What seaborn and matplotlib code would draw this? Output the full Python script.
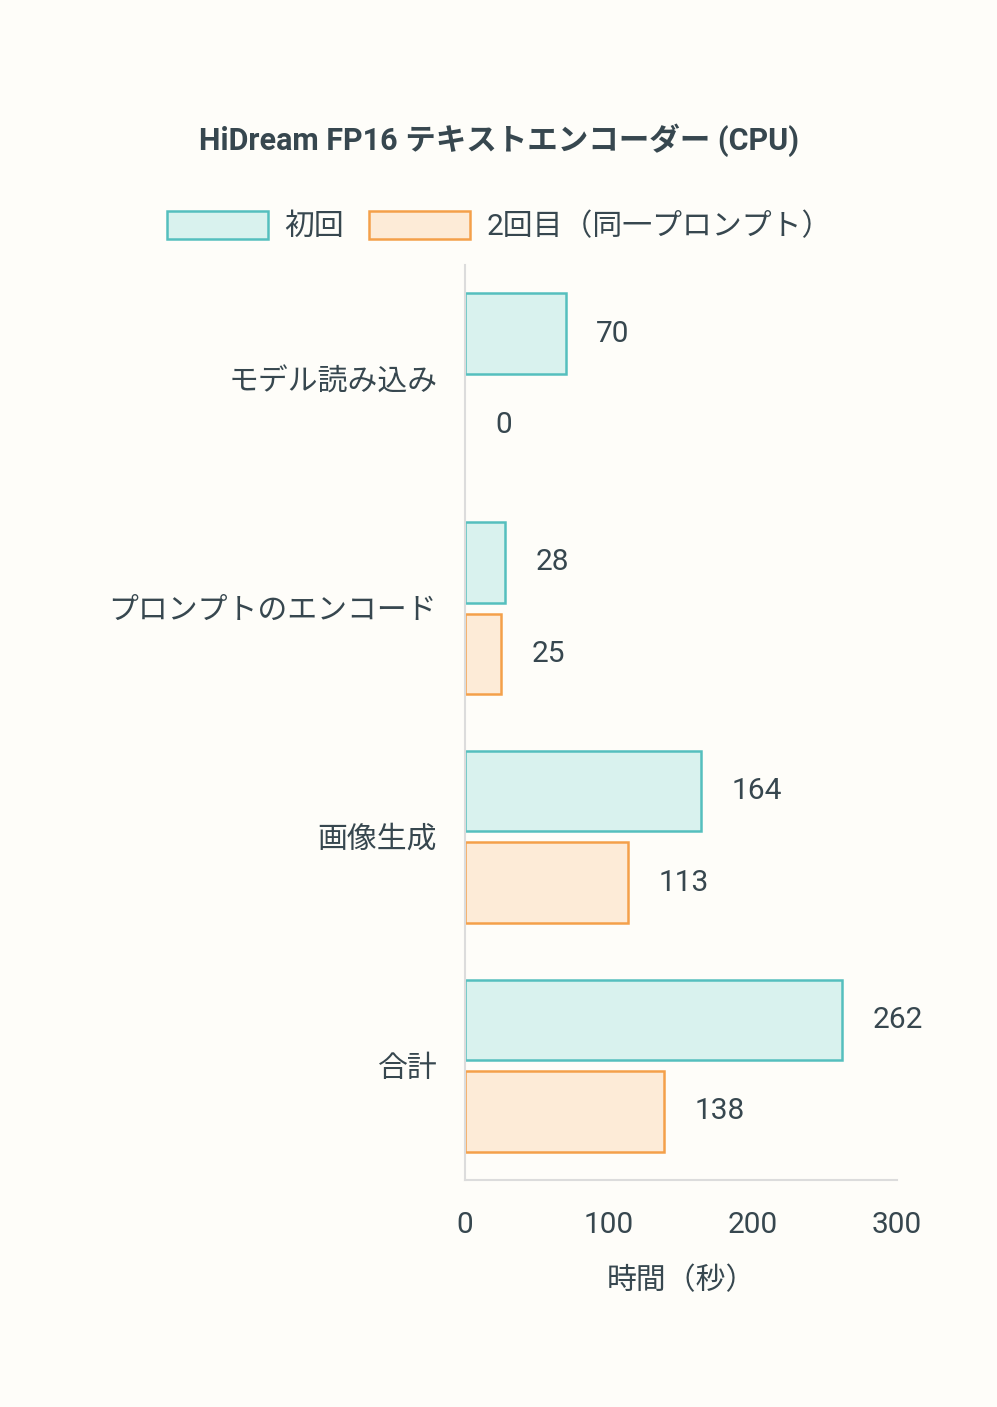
import matplotlib
matplotlib.use("Agg")
import matplotlib.pyplot as plt
import numpy as np
import pandas as pd
import seaborn as sns
from matplotlib.patches import Patch

categories = ["モデル読み込み", "プロンプトのエンコード", "画像生成", "合計"]
series_names = ["初回", "2回目（同一プロンプト）"]
first_run = [70, 28, 164, 262]
second_run = [0, 25, 113, 138]
x_ticks = [0, 100, 200, 300]

title = "HiDream FP16 テキストエンコーダー (CPU)"
x_label = "時間（秒）"

fill_colors = ["#d9f2ee", "#fdebd7"]
edge_colors = ["#55bfbe", "#f4a04a"]
text_color = "#37474f"
bg_color = "#fefdf9"
font_size = 21.5

sns.set_theme(style="white")
plt.rcParams["font.family"] = ["Roboto", "Noto Sans CJK JP", "DejaVu Sans"]

frame = pd.DataFrame(
    {
        "category": categories * 2,
        "series": [series_names[0]] * len(categories) + [series_names[1]] * len(categories),
        "value": first_run + second_run,
    }
)

fig = plt.figure(figsize=(9.97, 14.07), dpi=100, facecolor=bg_color)
ax = fig.add_axes([0.4664, 0.1613, 0.4333, 0.6504])
ax.set_facecolor(bg_color)

sns.barplot(
    data=frame,
    y="category",
    x="value",
    hue="series",
    hue_order=series_names,
    order=categories,
    palette=fill_colors,
    saturation=1,
    orient="h",
    width=0.8,
    gap=0.12,
    legend=False,
    ax=ax,
)

# per-series outline colour, and hide the outline of zero-length bars
values_by_series = [first_run, second_run]
for container, edge, vals in zip(ax.containers, edge_colors, values_by_series):
    for bar, v in zip(container, vals):
        bar.set_edgecolor(edge)
        bar.set_linewidth(1.8 if v > 0 else 0)
    ax.bar_label(
        container,
        labels=[str(v) for v in vals],
        padding=22,
        fontsize=font_size,
        color=text_color,
    )

ax.set_xlim(0, 300)
ax.set_ylim(3.5, -0.5)
ax.set_xticks(x_ticks)
ax.set_xticklabels([str(t) for t in x_ticks])
ax.set_xlabel(x_label, fontsize=font_size, color=text_color, labelpad=20)
ax.set_ylabel("")
ax.tick_params(axis="x", length=0, pad=22, labelsize=font_size, labelcolor=text_color)
ax.tick_params(axis="y", length=0, pad=20, labelsize=font_size, labelcolor=text_color)

for side in ("top", "right"):
    ax.spines[side].set_visible(False)
for side in ("left", "bottom"):
    ax.spines[side].set_color("#dcdcdc")
    ax.spines[side].set_linewidth(1.5)

fig.text(
    0.5,
    1 - 140 / 1407,
    title,
    ha="center",
    va="center",
    fontsize=22,
    fontweight="bold",
    color=text_color,
)

handles = [
    Patch(facecolor=f, edgecolor=e, linewidth=1.8, label=n)
    for f, e, n in zip(fill_colors, edge_colors, series_names)
]
leg = fig.legend(
    handles=handles,
    loc="center",
    bbox_to_anchor=(0.501, 1 - 226 / 1407),
    ncol=2,
    frameon=False,
    fontsize=font_size,
    handlelength=3.38,
    handleheight=1.05,
    handletextpad=0.55,
    columnspacing=0.85,
)
for t in leg.get_texts():
    t.set_color(text_color)

fig.savefig("out.png", dpi=100, facecolor=bg_color)
